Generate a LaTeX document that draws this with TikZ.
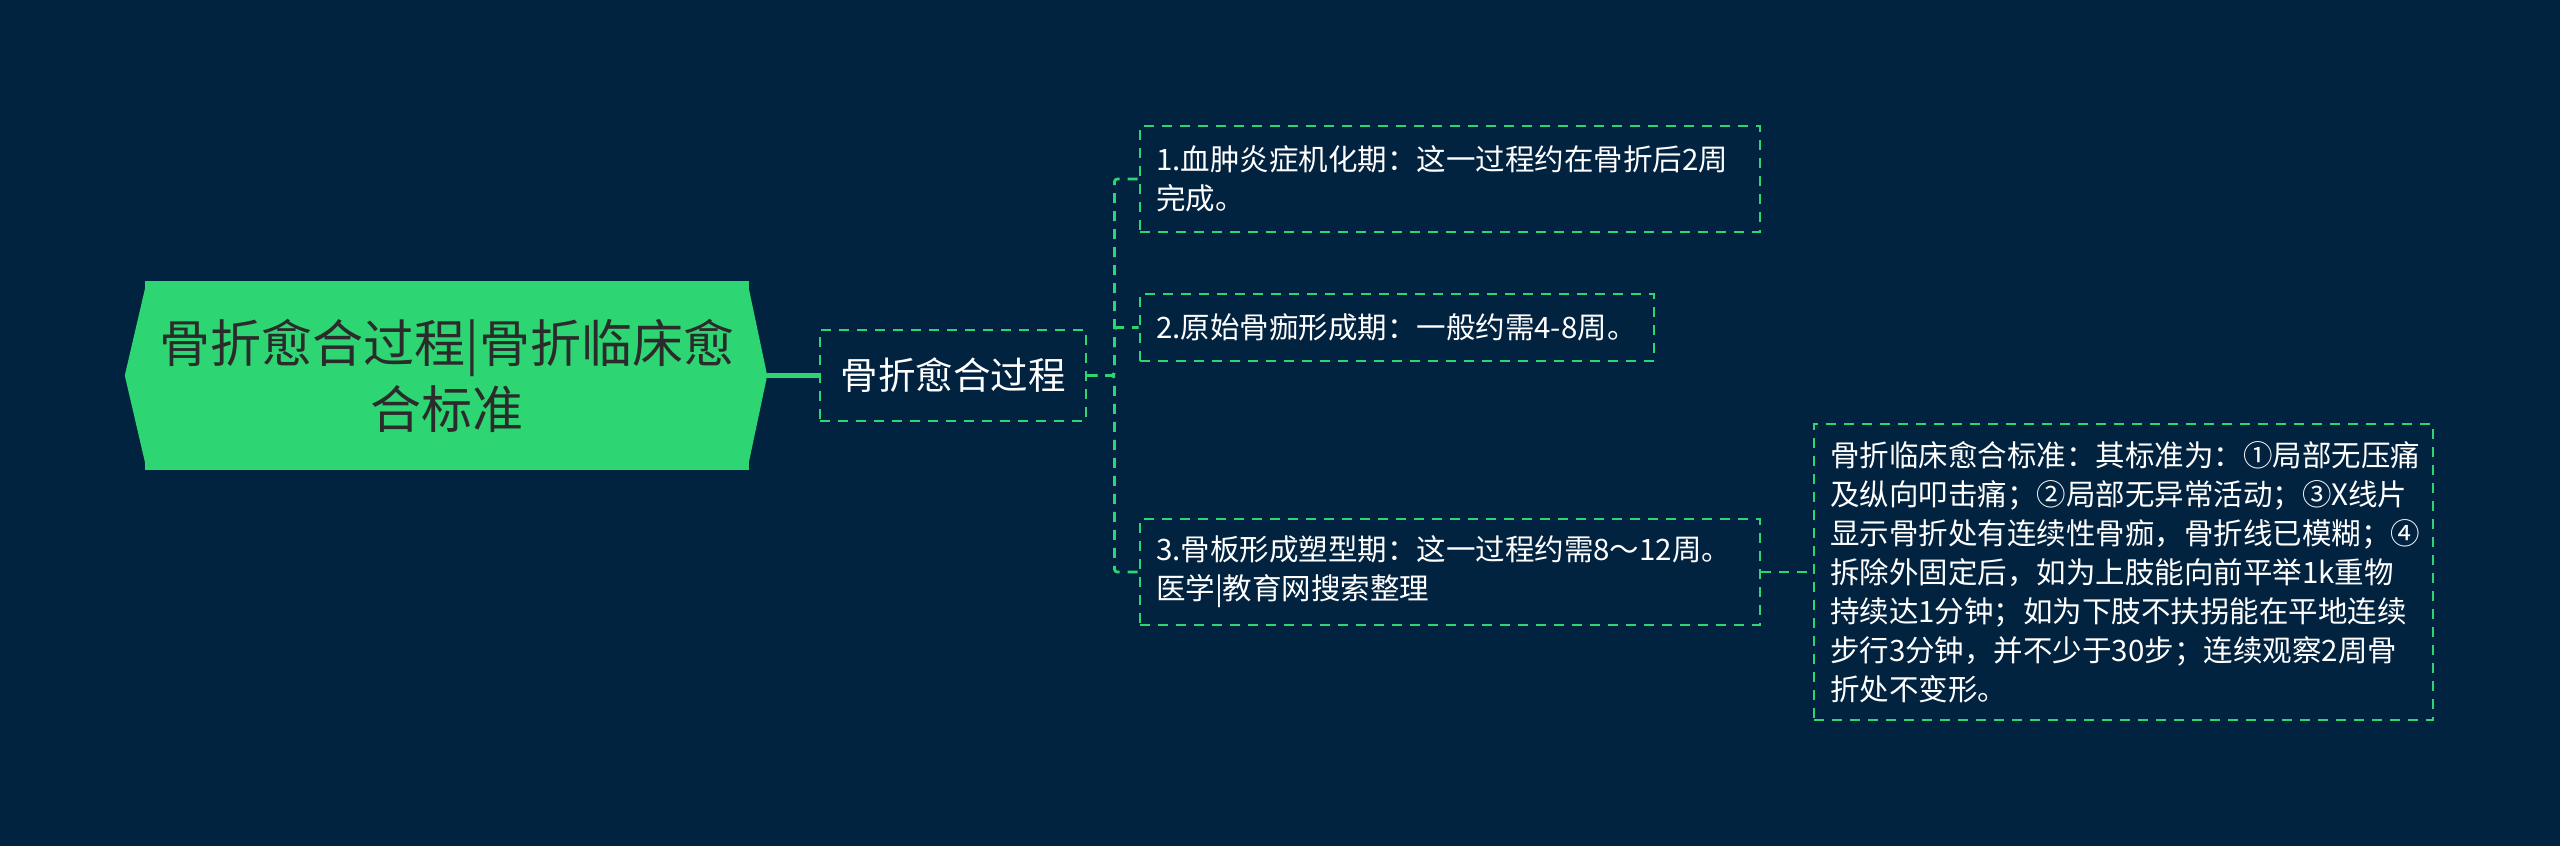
\documentclass[tikz,border=0pt]{standalone}
\usepackage{fontspec}
\setmainfont{Noto Sans CJK SC}
\usetikzlibrary{calc}
\definecolor{bgnavy}{HTML}{02233F}
\definecolor{mindgreen}{HTML}{2ED573}
\definecolor{roottext}{HTML}{2B2B2B}

\begin{document}
\begin{tikzpicture}[
        x=1pt,
        y=-1pt,
        rootbox/.style={fill=mindgreen, text=roottext, align=center, inner sep=0pt,
            minimum width=604pt, minimum height=189pt, font=\fontsize{51}{66}\selectfont},
        subbox/.style={draw=mindgreen, line width=2.8pt, dash pattern=on 10pt off 8pt,
            text=white, inner sep=0pt, minimum width=266pt, minimum height=91pt,
            font=\fontsize{37.5}{45}\selectfont},
        leafbox/.style={draw=mindgreen, line width=2.8pt, dash pattern=on 10pt off 8pt,
            text=white, align=left, inner xsep=16pt, inner ysep=0pt,
            font=\fontsize{29.5}{39}\selectfont},
        trunk/.style={draw=mindgreen, line width=4.5pt},
        link/.style={draw=mindgreen, line width=2.8pt, dash pattern=on 10pt off 8pt}
    ]
        \useasboundingbox (0,0) rectangle (2560,846);
        \fill[bgnavy] (0,0) rectangle (2560,846);

        % central topic
        \node[rootbox] (root) at (447,375.5) {骨折愈合过程|骨折临床愈\\合标准};
        \fill[mindgreen] ($(root.north west)+(2,0)$) -- ($(root.west)+(-20,0)$)
            -- ($(root.south west)+(2,0)$) -- cycle;
        \fill[mindgreen] ($(root.north east)+(-2,0)$) -- ($(root.east)+(18,0)$)
            -- ($(root.south east)+(-2,0)$) -- cycle;
        \coordinate (roottip) at ($(root.east)+(18,0)$);

        \node[subbox] (sub) at (953,375.5) {骨折愈合过程};
        \draw[trunk] (roottip) -- (sub.west);

        % stages
        \node[leafbox, text width=588pt, minimum height=106pt] (stage1) at (1450,179)
            {1.血肿炎症机化期：这一过程约在骨折后2周\\完成。};
        \node[leafbox, text width=482pt, minimum height=67pt] (stage2) at (1397,327.5)
            {2.原始骨痂形成期：一般约需4-8周。};
        \node[leafbox, text width=588pt, minimum height=106pt] (stage3) at (1450,572)
            {3.骨板形成塑型期：这一过程约需8～12周。\\医学|教育网搜索整理};

        \foreach \leaf in {stage1,stage2,stage3}
            \draw[link, rounded corners=3pt] (sub.east) -- ++(27,0) |- (\leaf.west);

        % clinical criteria
        \node[leafbox, text width=587pt, minimum height=296pt] (criteria) at (2123.5,572)
            {骨折临床愈合标准：其标准为：①局部无压痛\\
             及纵向叩击痛；②局部无异常活动；③X线片\\
             显示骨折处有连续性骨痂，骨折线已模糊；④\\
             拆除外固定后，如为上肢能向前平举1k重物\\
             持续达1分钟；如为下肢不扶拐能在平地连续\\
             步行3分钟，并不少于30步；连续观察2周骨\\
             折处不变形。};
        \draw[link] (stage3.east) -- (criteria.west);
    \end{tikzpicture}
\end{document}
